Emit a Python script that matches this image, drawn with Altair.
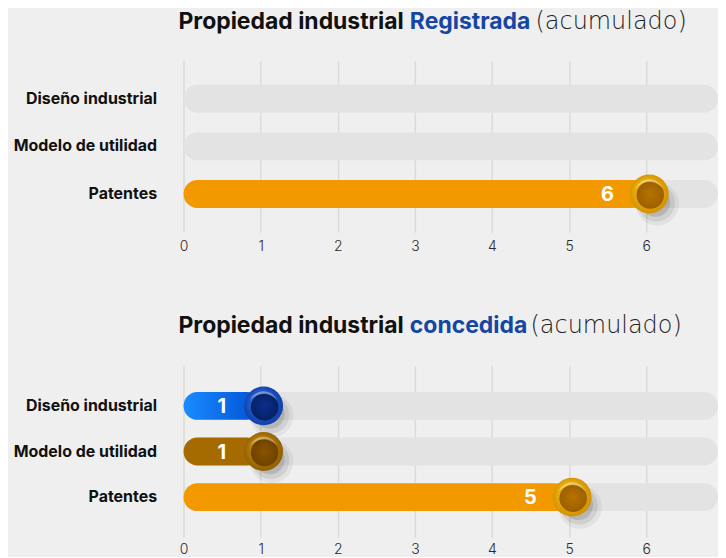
import altair as alt
import pandas as pd

categories = ["Diseño industrial", "Modelo de utilidad", "Patentes"]
registrada = [0, 0, 6]
concedida = [1, 1, 5]
tick_values = [0, 1, 2, 3, 4, 5, 6]
title_prefix = "Propiedad industrial"
title_words = ["Registrada", "concedida"]
title_suffix = "(acumulado)"

FONT = "Inter"
XMAX = 6.93
W = 536

bar_colors = {
    "Diseño industrial": alt.Gradient(gradient="linear", x1=0, y1=0, x2=1, y2=0,
        stops=[alt.GradientStop(offset=0, color="#1a8cff"), alt.GradientStop(offset=1, color="#0050d4")]),
    "Modelo de utilidad": "#a56b00",
    "Patentes": "#f29900",
}
ball_outer = {
    "Diseño industrial": ("#3f7ee8", "#0b3aa6"),
    "Modelo de utilidad": ("#d9a21a", "#8c5a00"),
    "Patentes": ("#ffd21a", "#d08c00"),
}
ball_inner = {
    "Diseño industrial": ("#0a2f8f", "#06205e"),
    "Modelo de utilidad": ("#8a5400", "#6b4000"),
    "Patentes": ("#b87400", "#9a5c00"),
}


def radial(c1, c2, cx=0.38, cy=0.32):
    return alt.Gradient(gradient="radial", x1=cx, y1=cy, r1=0, x2=0.5, y2=0.5, r2=0.55,
                        stops=[alt.GradientStop(offset=0, color=c1), alt.GradientStop(offset=1, color=c2)])


def panel(values, word, word_x, suffix_x, base_y, height, pad_outer, label_pad):
    df = pd.DataFrame({"cat": categories, "value": values})
    xs = alt.Scale(domain=[0, XMAX], nice=False, zero=True)
    ys = alt.Scale(domain=categories, paddingInner=0, paddingOuter=pad_outer)
    yaxis = alt.Axis(title=None, domain=False, ticks=False, labelFont=FONT,
                     labelFontSize=16, labelFontWeight="bold", labelColor="#111111",
                     labelPadding=27, minExtent=176, maxExtent=176, grid=False)
    xaxis = alt.Axis(values=tick_values, format="d", title=None, labelFlush=False,
                     domain=False, ticks=False, grid=True, gridColor="#dbdbd5", gridWidth=1.5,
                     labelFont=FONT, labelFontSize=14, labelFontWeight=300, labelColor="#2a2a2a",
                     labelPadding=label_pad, labelBaseline="top")
    yenc = alt.Y("cat:N", scale=ys, sort=categories, axis=yaxis)
    base = alt.Chart(df)
    track = base.transform_calculate(s="0", e=str(XMAX)).mark_bar(
        height=28, cornerRadius=14, color="#e3e3e3").encode(
        y=yenc, x=alt.X("s:Q", scale=xs, axis=xaxis), x2="e:Q")
    layers = [track]
    pos = dict(y=yenc, x=alt.X("value:Q", scale=xs, stack=None, axis=xaxis))
    for c in categories:
        f = base.transform_filter((alt.datum.cat == c) & (alt.datum.value > 0))
        layers.append(f.mark_bar(height=28, cornerRadius=14, color=bar_colors[c]).encode(**pos))
    visible = base.transform_filter(alt.datum.value > 0)
    layers.append(visible.mark_circle(size=1900, color="#000000", opacity=0.05, xOffset=11, yOffset=10).encode(**pos))
    layers.append(visible.mark_circle(size=1400, color="#000000", opacity=0.08, xOffset=10, yOffset=9).encode(**pos))
    layers.append(visible.mark_circle(size=900, color="#000000", opacity=0.12, xOffset=9, yOffset=8).encode(**pos))
    for c in categories:
        f = base.transform_filter((alt.datum.cat == c) & (alt.datum.value > 0))
        layers.append(f.mark_point(shape="circle", filled=True, size=1520, opacity=1, strokeWidth=0,
                                   xOffset=3, fill=radial(*ball_outer[c])).encode(**pos))
        layers.append(f.mark_point(shape="circle", filled=True, size=760, opacity=1, strokeWidth=0,
                                   xOffset=4, yOffset=1, fill=radial(*ball_inner[c], cx=0.5, cy=0.45)).encode(**pos))
    layers.append(visible.mark_point(
        shape="M -0.75 -0.3 A 0.8 0.8 0 0 1 0.75 -0.3 A 0.95 0.95 0 0 0 -0.75 -0.3 Z",
        filled=True, size=1300, fill="#ffffff", opacity=0.35, strokeWidth=0, xOffset=3).encode(**pos))
    layers.append(visible.mark_text(color="#ffffff", fontWeight="bold", fontSize=20, font=FONT,
                                    align="center", baseline="middle", xOffset=-39, yOffset=1).encode(
        text=alt.Text("value:Q"), **pos))
    tdf = pd.DataFrame({"t": [title_prefix]})
    wdf = pd.DataFrame({"t": [word]})
    sdf = pd.DataFrame({"t": [title_suffix]})
    tstyle = dict(fontSize=23, align="left", baseline="alphabetic")
    layers.append(alt.Chart(tdf).mark_text(fontWeight="bold", color="#111111", font=FONT, **tstyle).encode(
        text="t:N", x=alt.value(-5), y=alt.value(base_y)))
    layers.append(alt.Chart(wdf).mark_text(fontWeight="bold", color="#1546a3", font=FONT, **tstyle).encode(
        text="t:N", x=alt.value(word_x), y=alt.value(base_y)))
    layers.append(alt.Chart(sdf).mark_text(fontWeight=200, color="#222222", font="DejaVu Sans",
                                           fontSize=24, align="left", baseline="alphabetic").encode(
        text="t:N", x=alt.value(suffix_x), y=alt.value(base_y)))
    return alt.layer(*layers).properties(width=W, height=height)


top = panel(registrada, title_words[0], 227, 353, -32, 172, 0.3, 7)
bottom = panel(concedida, title_words[1], 227, 348, -33, 172, 0.38, 5)

chart = alt.vconcat(top, bottom, spacing=61).properties(
    padding={"left": 0, "top": 1, "right": 0, "bottom": 0},
    background="#efefef",
).configure_view(stroke=None)

chart.save("out.html", embed_options={"renderer": "svg", "actions": False})
